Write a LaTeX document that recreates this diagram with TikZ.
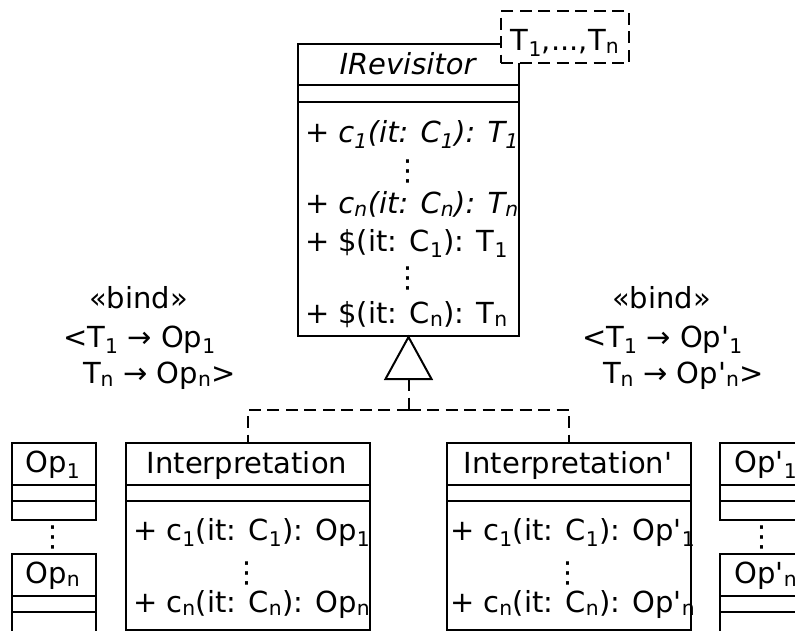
\documentclass[tikz,border=0pt]{standalone}
\usepackage{fontspec}
\setmainfont{DejaVu Sans}[Ligatures=TeXOff]
\newcommand\sbs[1]{\textsubscript{#1}}
\newcommand\vdts{\symbol{"22EE}}
\begin{document}
\begin{tikzpicture}[x=1pt,y=-1pt,line width=2pt,
  font=\fontsize{29}{35}\selectfont,
  box/.style={draw,line width=2pt,inner sep=0pt,anchor=north west},
  txt/.style={inner sep=0pt,anchor=base},
  ltxt/.style={inner sep=0pt,anchor=base west},
  dsh/.style={dash pattern=on 12pt off 6.5pt}]
\useasboundingbox (0,0) rectangle (795,630);
\clip (0,0) rectangle (795,630);

% IRevisitor
\node[box,minimum width=221pt,minimum height=292pt] (irev) at (297,43) {};
\draw (297,85) -- (518,85);
\draw (297,102) -- (518,102);
\node[txt] (irevname) at (407.5,74) {\itshape IRevisitor};
\node[ltxt] (o1) at (304,142) {\itshape + c\sbs{1}(it: C\sbs{1}): T\sbs{1}};
\node[txt] (d1) at (407.5,180) {\vdts};
\node[ltxt] (o2) at (304,213) {\itshape + c\sbs{n}(it: C\sbs{n}): T\sbs{n}};
\node[ltxt] (o3) at (304,251) {+ \$(it: C\sbs{1}): T\sbs{1}};
\node[txt] (d2) at (407.5,287) {\vdts};
\node[ltxt] (o4) at (304,323) {+ \$(it: C\sbs{n}): T\sbs{n}};

% template parameter box
\node[box,dsh,fill=white,minimum width=128pt,minimum height=52pt] (tpl) at (500,10) {};
\node[txt] (tpltxt) at (tpl.center |- 0,50) {T\sbs{1},...,T\sbs{n}};

% Interpretation
\node[box,minimum width=244pt,minimum height=187pt] (interp) at (125,442) {};
\draw (125,485) -- (369,485);
\draw (125,501) -- (369,501);
\node[txt] (interpname) at (247,473) {Interpretation};
\node[ltxt] (i1) at (132,540) {+ c\sbs{1}(it: C\sbs{1}): Op\sbs{1}};
\node[txt] (id) at (247,582) {\vdts};
\node[ltxt] (i2) at (132,612) {+ c\sbs{n}(it: C\sbs{n}): Op\sbs{n}};

% Interpretation'
\node[box,minimum width=244pt,minimum height=187pt] (interpp) at (446,442) {};
\draw (446,485) -- (690,485);
\draw (446,501) -- (690,501);
\node[txt] (interppname) at (568,473) {Interpretation'};
\node[ltxt] (j1) at (449,540) {+ c\sbs{1}(it: C\sbs{1}): Op'\sbs{1}};
\node[txt] (jd) at (568,582) {\vdts};
\node[ltxt] (j2) at (449,612) {+ c\sbs{n}(it: C\sbs{n}): Op'\sbs{n}};

% Op boxes
\node[box,minimum width=84pt,minimum height=77pt] (op1) at (11,442) {};
\draw (11,485) -- (95,485);
\draw (11,501) -- (95,501);
\node[txt] (op1t) at (53,472) {Op\sbs{1}};
\node[txt] (opd) at (53,546) {\vdts};
\node[box,minimum width=84pt,minimum height=90pt] (opn) at (11,553) {};
\draw (11,596) -- (95,596);
\draw (11,612) -- (95,612);
\node[txt] (opnt) at (53,583) {Op\sbs{n}};

% Op' boxes
\node[box,minimum width=94pt,minimum height=77pt] (opp1) at (719,442) {};
\draw (719,485) -- (813,485);
\draw (719,501) -- (813,501);
\node[txt] (opp1t) at (766,472) {Op'\sbs{1}};
\node[txt] (oppd) at (762,546) {\vdts};
\node[box,minimum width=94pt,minimum height=90pt] (oppn) at (719,553) {};
\draw (719,596) -- (813,596);
\draw (719,612) -- (813,612);
\node[txt] (oppnt) at (766,583) {Op'\sbs{n}};

% bind labels
\node[ltxt] (lb1) at (88,308) {«bind»};
\node[ltxt] (lb2) at (62,347) {<T\sbs{1} → Op\sbs{1}};
\node[ltxt] (lb3) at (82,383) {T\sbs{n} → Op\sbs{n}>};
\node[ltxt] (rb1) at (611,308) {«bind»};
\node[ltxt] (rb2) at (581,347) {<T\sbs{1} → Op'\sbs{1}};
\node[ltxt] (rb3) at (602,383) {T\sbs{n} → Op'\sbs{n}>};

% realization
\draw (irev.south) -- ++(-23,42) coordinate (tl) -- ++(46,0) -- cycle;
\path (irev.south) ++(0,42) coordinate (tb);
\draw[dsh] (tb) -- ++(0,31) coordinate (junc);
\draw[dsh] (junc) -| (interp.north);
\draw[dsh] (junc) -| (interpp.north);
\end{tikzpicture}
\end{document}
